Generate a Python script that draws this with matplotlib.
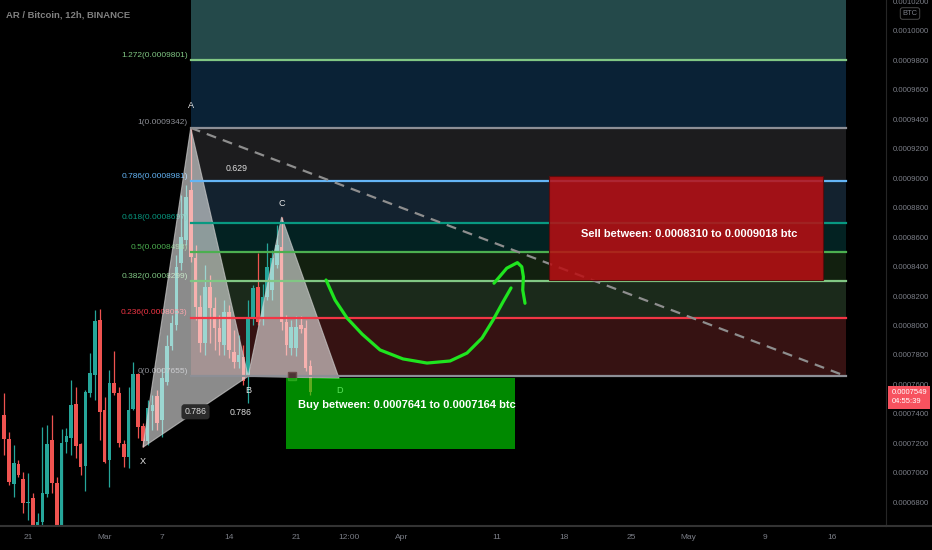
"""
AR / Bitcoin 12h chart with an XABCD pattern and fib levels.
"""

import numpy as np
import matplotlib
matplotlib.use('Agg')
from matplotlib import pyplot as plt
from matplotlib.patches import Polygon, Rectangle

plt.rcParams['font.family'] = ['Liberation Sans', 'DejaVu Sans']

# 12h candles, x in days after Feb 21, prices in 1e-7 BTC
t0 = -2.5
opens = [7392, 7227, 6924, 7057, 6956, 6793, 6827, 6611, 6668, 6856,
         7222, 6933, 6611, 7207, 7238, 7467, 7193, 7046, 7540, 7664,
         8037, 7426, 7087, 7608, 7544, 7195, 7109, 7433, 7671, 7318,
         7216, 7421, 7523, 7358, 7618, 7863, 8003, 8422, 8581, 8920,
         8458, 8126, 7881, 8261, 8119, 7981, 7868, 8092, 7820, 7752,
         7786, 7650, 8051, 8261, 8051, 8194, 8241, 8411, 8533, 8024,
         7847, 7847, 8003, 7983, 7725]
highs = [7540, 7275, 7188, 7087, 7007, 6996, 6861, 6727, 7313, 7324,
         7392, 6973, 7297, 7302, 7630, 7580, 7200, 7562, 7811, 8105,
         8110, 7517, 7698, 7827, 7584, 7222, 7580, 7754, 7675, 7336,
         7494, 7528, 7562, 7711, 7936, 8071, 8479, 8886, 8954, 9342,
         8547, 8207, 8411, 8343, 8194, 8071, 8173, 8139, 7969, 7936,
         7868, 8173, 8275, 8492, 8285, 8560, 8513, 8683, 8737, 8071,
         8037, 8064, 8064, 8037, 7766]
lows = [7121, 6917, 6837, 6973, 6725, 6679, 6578, 6578, 6638, 6837,
        6861, 6578, 6578, 7132, 7121, 7098, 6985, 6878, 7517, 7494,
        7222, 7064, 6905, 7528, 7177, 7041, 7030, 7426, 7234, 7177,
        7188, 7290, 7290, 7243, 7596, 7834, 7969, 8377, 8547, 8431,
        8037, 7820, 7800, 7880, 7834, 7800, 7800, 7779, 7711, 7711,
        7596, 7474, 8003, 8003, 8003, 8173, 8173, 8391, 7969, 7800,
        7800, 7793, 7949, 7691, 7528]
closes = [7227, 6935, 7068, 6985, 6793, 6801, 6611, 6668, 6861, 7195,
          6928, 6611, 7200, 7252, 7460, 7182, 7041, 7546, 7675, 8033,
          7415, 7075, 7612, 7544, 7200, 7105, 7426, 7669, 7309, 7216,
          7440, 7460, 7336, 7641, 7863, 8015, 8399, 8603, 8873, 8465,
          8126, 7881, 8261, 8119, 7981, 7888, 8092, 7834, 7752, 7800,
          7623, 8051, 8255, 8024, 8194, 8397, 8458, 8547, 8024, 7868,
          7990, 7990, 7976, 7712, 7549]

# fib retracement A -> B
fib_ratios = ['1.272', '1', '0.786', '0.618', '0.5', '0.382', '0.236', '0']
fib_prices = [0.0009801, 0.0009342, 0.0008981, 0.0008697,
              0.0008498, 0.0008299, 0.0008053, 0.0007655]
fib_top = 0.0010385   # 1.618, above the view
fib_line_colors = ['#81c784', '#8d8f96', '#64b5f6', '#089981',
                   '#4caf50', '#81c784', '#f23645', '#8d8f96']
fib_band_colors = ['#24494a', '#0a2236', '#1c1c1e', '#13222f',
                   '#032222', '#12200f', '#1b2a1b', '#361212']
fib_start, fib_end = 17.0, 85.5

# XABCD pattern
pat_names = ['X', 'A', 'B', 'C', 'D']
pat_days = [12.0, 17.0, 23.0, 26.5, 32.5]
pat_prices = [0.0007173, 0.0009342, 0.0007655, 0.0008737, 0.0007641]
pat_offsets = [-10, 16, -10, 10, -9]

trend_days = [17.0, 85.5]
trend_prices = [0.0009342, 0.0007655]

# zones
sell_days = [54.44, 83.07]
sell_prices = [0.0008310, 0.0009018]
sell_text = 'Sell between: 0.0008310 to 0.0009018 btc'
buy_days = [26.96, 50.89]
buy_prices = [0.0007164, 0.0007641]
buy_text = 'Buy between: 0.0007641 to 0.0007164 btc'

# hand drawn arrow
arrow_days = [31.14, 32.08, 33.33, 34.90, 36.78, 39.18, 41.69, 44.10,
              45.87, 47.44, 48.59, 49.63, 50.47]
arrow_prices = [8309, 8173, 8051, 7942, 7834, 7773, 7745, 7759,
                7813, 7915, 8037, 8160, 8255]
hook_days = [48.69, 50.02, 51.13, 51.59, 51.76, 51.69, 51.93]
hook_prices = [8287, 8389, 8427, 8399, 8331, 8241, 8151]

last_price = 0.0007549
countdown = '04:55:39'
event_day = 27.6

xtick_days = [0, 8, 14, 21, 28, 33.5, 39, 49, 56, 63, 69, 77, 84]
xtick_labels = ['21', 'Mar', '7', '14', '21', '12:00', 'Apr', '11', '18',
                '25', 'May', '9', '16']
ytick_prices = np.arange(68, 103, 2) * 1e-5

sc = 1e-7
O = np.array(opens) * sc
H = np.array(highs) * sc
L = np.array(lows) * sc
C = np.array(closes) * sc
t = t0 + 0.5 * np.arange(len(O))

fig = plt.figure(figsize=(9.32, 5.5), dpi=100, facecolor='black')
ax = fig.add_axes([0, 24 / 550, 886 / 932, 526 / 550])
ax.set_facecolor('black')

# fib bands and lines
lv = [fib_top] + fib_prices
for i in range(len(fib_prices)):
    ax.fill_between([fib_start, fib_end], fib_prices[i], lv[i],
                    color=fib_band_colors[i], lw=0, zorder=0.5)
    ax.plot([fib_start, fib_end], [fib_prices[i]] * 2,
            color=fib_line_colors[i], lw=1.6, zorder=3.5)
    ax.annotate('%s(%.7f)' % (fib_ratios[i], fib_prices[i]),
                xy=(fib_start, fib_prices[i]), xytext=(-2.2, 1.0),
                textcoords='offset points', ha='right', va='bottom',
                color=fib_line_colors[i], fontsize=6.0, zorder=2.5)

# candles
up = C >= O
cols = np.where(up, '#26a69a', '#ef5350')
ax.vlines(t, L, H, colors=cols, lw=0.9, zorder=2)
ax.bar(t, np.maximum(np.abs(C - O), 1.5e-7), bottom=np.minimum(O, C),
       width=0.38, color=cols, lw=0, zorder=2)

# pattern triangles
P = list(zip(pat_days, pat_prices))
for tri in [(P[0], P[1], P[2]), (P[2], P[3], P[4])]:
    ax.add_patch(Polygon(tri, closed=True, fc=(1, 1, 1, 0.55),
                         ec=(0.8, 0.8, 0.8, 0.7), lw=0.8, zorder=3))

ax.plot(trend_days, trend_prices, color='#8e8e8e', lw=1.6,
        ls=(0, (4.5, 3.2)), zorder=3.6)

for n, d, p, off in zip(pat_names, pat_days, pat_prices, pat_offsets):
    ax.annotate(n, xy=(d, p), xytext=(0, off), textcoords='offset points',
                ha='center', va='center', color='#e6e6e6', fontsize=6.6,
                zorder=4)

# ratio labels
ax.annotate('0.786', xy=((pat_days[0] + pat_days[2]) / 2,
                         (pat_prices[0] + pat_prices[2]) / 2),
            ha='center', va='center', color='#dddddd', fontsize=6.3, zorder=4,
            bbox=dict(boxstyle='round,pad=0.35', fc='#2b2b2b', ec='none'))
ax.annotate('0.786', xy=((pat_days[0] + pat_days[4]) / 2,
                         (pat_prices[0] + pat_prices[4]) / 2),
            ha='center', va='center', color='#dddddd', fontsize=6.3, zorder=4)
ax.annotate('0.629', xy=((pat_days[1] + pat_days[3]) / 2,
                         (pat_prices[1] + pat_prices[3]) / 2),
            xytext=(0, 3), textcoords='offset points',
            ha='center', va='center', color='#dddddd', fontsize=6.3, zorder=4)

ax.plot([event_day], [fib_prices[-1]], 's', ms=6, color='#4d3434',
        mec='#6a4a4a', zorder=4.2)

# zones
ax.add_patch(Rectangle((sell_days[0], sell_prices[0]),
                       sell_days[1] - sell_days[0],
                       sell_prices[1] - sell_prices[0],
                       fc=(0.73, 0.06, 0.075, 0.86), ec='#5a0c0c', lw=0.8,
                       zorder=5))
ax.text(69.07, 0.0008621, sell_text, ha='center', va='center',
        color='white', fontsize=8.0, fontweight='bold', zorder=6)
ax.add_patch(Rectangle((buy_days[0], buy_prices[0]),
                       buy_days[1] - buy_days[0],
                       buy_prices[1] - buy_prices[0],
                       fc=(0.0, 0.9, 0.0, 0.6), ec='none', zorder=5))
ax.text(39.6, 0.000746, buy_text, ha='center', va='center',
        color='white', fontsize=8.0, fontweight='bold', zorder=6)

ax.plot(arrow_days, np.array(arrow_prices) * sc, color='#1fe51f', lw=2.3,
        solid_capstyle='round', solid_joinstyle='round', zorder=6)
ax.plot(hook_days, np.array(hook_prices) * sc, color='#1fe51f', lw=2.3,
        solid_capstyle='round', solid_joinstyle='round', zorder=6)

# axes
ax.set_xlim(-2.93, 89.65)
ax.set_ylim(0.00066384, 0.00102105)
ax.yaxis.tick_right()
ax.set_yticks(ytick_prices)
ax.set_yticklabels(['%.7f' % v for v in ytick_prices])
ax.set_xticks(xtick_days)
ax.set_xticklabels(xtick_labels)
ax.tick_params(axis='y', length=0, pad=5, labelsize=5.6, labelcolor='#7b7e87')
ax.tick_params(axis='x', length=0, pad=6, labelsize=6.0, labelcolor='#7b7e87')
for s in ['top', 'left']:
    ax.spines[s].set_visible(False)
ax.spines['bottom'].set_color('#333333')
ax.spines['bottom'].set_linewidth(1.5)
ax.spines['right'].set_color('#262626')
fig.add_artist(plt.Line2D([886 / 932, 1], [24 / 550, 24 / 550],
                          color='#333333', lw=1.5))

# last price tag
ax.annotate('%.7f\n%s' % (last_price, countdown), xy=(1, last_price),
            xycoords=ax.get_yaxis_transform(), xytext=(3.8, -4),
            textcoords='offset points', ha='left', va='center',
            color='white', fontsize=5.5, linespacing=1.4,
            annotation_clip=False,
            bbox=dict(boxstyle='square,pad=0.4', fc='#f7525f', ec='none'))

fig.text(910 / 932, 1 - 13.5 / 550, 'BTC', ha='center', va='center',
         color='#7b7e87', fontsize=5.4,
         bbox=dict(boxstyle='round,pad=0.3', fc='black', ec='#555555', lw=0.6))

fig.text(6 / 932, 1 - 15 / 550, 'AR / Bitcoin, 12h, BINANCE', ha='left',
         va='center', color='#808080', fontsize=6.8, fontweight='bold')

fig.savefig('out.png', dpi=100, facecolor='black')
